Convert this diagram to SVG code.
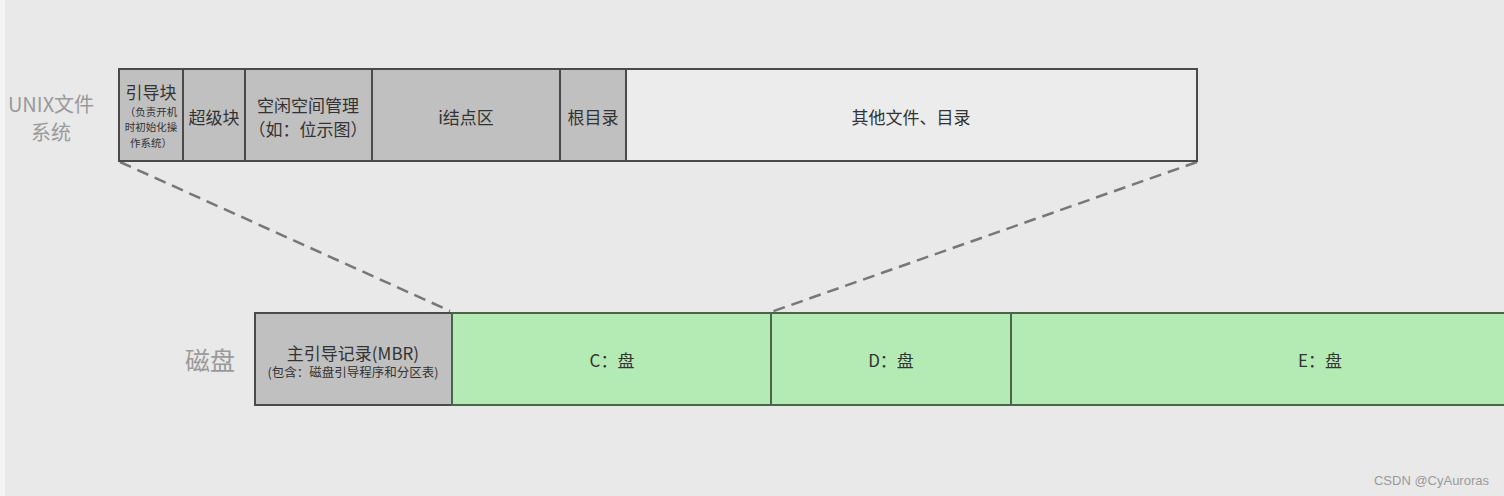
<svg xmlns="http://www.w3.org/2000/svg" width="1504" height="496" viewBox="0 0 1504 496">
<style>
text{font-family:"Noto Sans CJK SC","Liberation Sans",sans-serif;text-anchor:middle;dominant-baseline:central}
.g{fill:#c0c0c0;stroke:#4a4a4a;stroke-width:2}
.w{fill:#ececec;stroke:#4a4a4a;stroke-width:2}
.gr{fill:#b4eab4;stroke:#4a664a;stroke-width:2}
.t{font-size:17px;fill:#333}
.s{font-size:10.5px;fill:#333}
.lab{fill:#9a9a9a}
.dash{stroke:#777;stroke-width:2.5;stroke-dasharray:12,7;fill:none}
</style>
<rect width="1504" height="496" fill="#e9e9e9"/>
<rect width="5" height="496" fill="#f4f4f4"/>
<g id="label-unix"><text class="lab" x="51" y="103" font-size="20">UNIX文件</text><text class="lab" x="51" y="131" font-size="20">系统</text></g>
<g id="label-disk"><text class="lab" x="210" y="359" font-size="25">磁盘</text></g>
<g id="connectors">
<line class="dash" x1="120" y1="162" x2="450" y2="311"/>
<line class="dash" x1="1197" y1="162" x2="771" y2="312"/>
</g>
<g id="boot"><rect class="g" x="119" y="69" width="64" height="92"/><text class="t" x="151" y="91">引导块</text><text class="s" x="151" y="111">（负责开机</text><text class="s" x="151" y="126">时初始化操</text><text class="s" x="151" y="142">作系统）</text></g>
<g id="super"><rect class="g" x="183" y="69" width="62" height="92"/><text class="t" x="214" y="116">超级块</text></g>
<g id="free"><rect class="g" x="245" y="69" width="127" height="92"/><text class="t" x="308" y="104">空闲空间管理</text><text class="t" x="308" y="128">（如：位示图）</text></g>
<g id="inode"><rect class="g" x="372" y="69" width="188" height="92"/><text class="t" x="466" y="116">i结点区</text></g>
<g id="root"><rect class="g" x="560" y="69" width="66" height="92"/><text class="t" x="593" y="116">根目录</text></g>
<g id="other"><rect class="w" x="626" y="69" width="571" height="92"/><text class="t" x="911" y="116">其他文件、目录</text></g>
<g id="mbr"><rect class="g" x="255" y="313" width="197" height="92"/><text class="t" x="353" y="352">主引导记录(MBR)</text><text x="353" y="371" font-size="12.5" fill="#333">(包含：磁盘引导程序和分区表)</text></g>
<g id="c"><rect class="gr" x="452" y="313" width="319" height="92"/><text class="t" x="612" y="359">C：盘</text></g>
<g id="d"><rect class="gr" x="771" y="313" width="240" height="92"/><text class="t" x="891" y="359">D：盘</text></g>
<g id="e"><rect class="gr" x="1011" y="313" width="500" height="92"/><text class="t" x="1320" y="359">E：盘</text></g>
<g id="watermark"><text x="1489" y="480" font-size="13" fill="#9a9a9a" style="text-anchor:end;font-family:'Liberation Sans',sans-serif">CSDN @CyAuroras</text></g>
</svg>
